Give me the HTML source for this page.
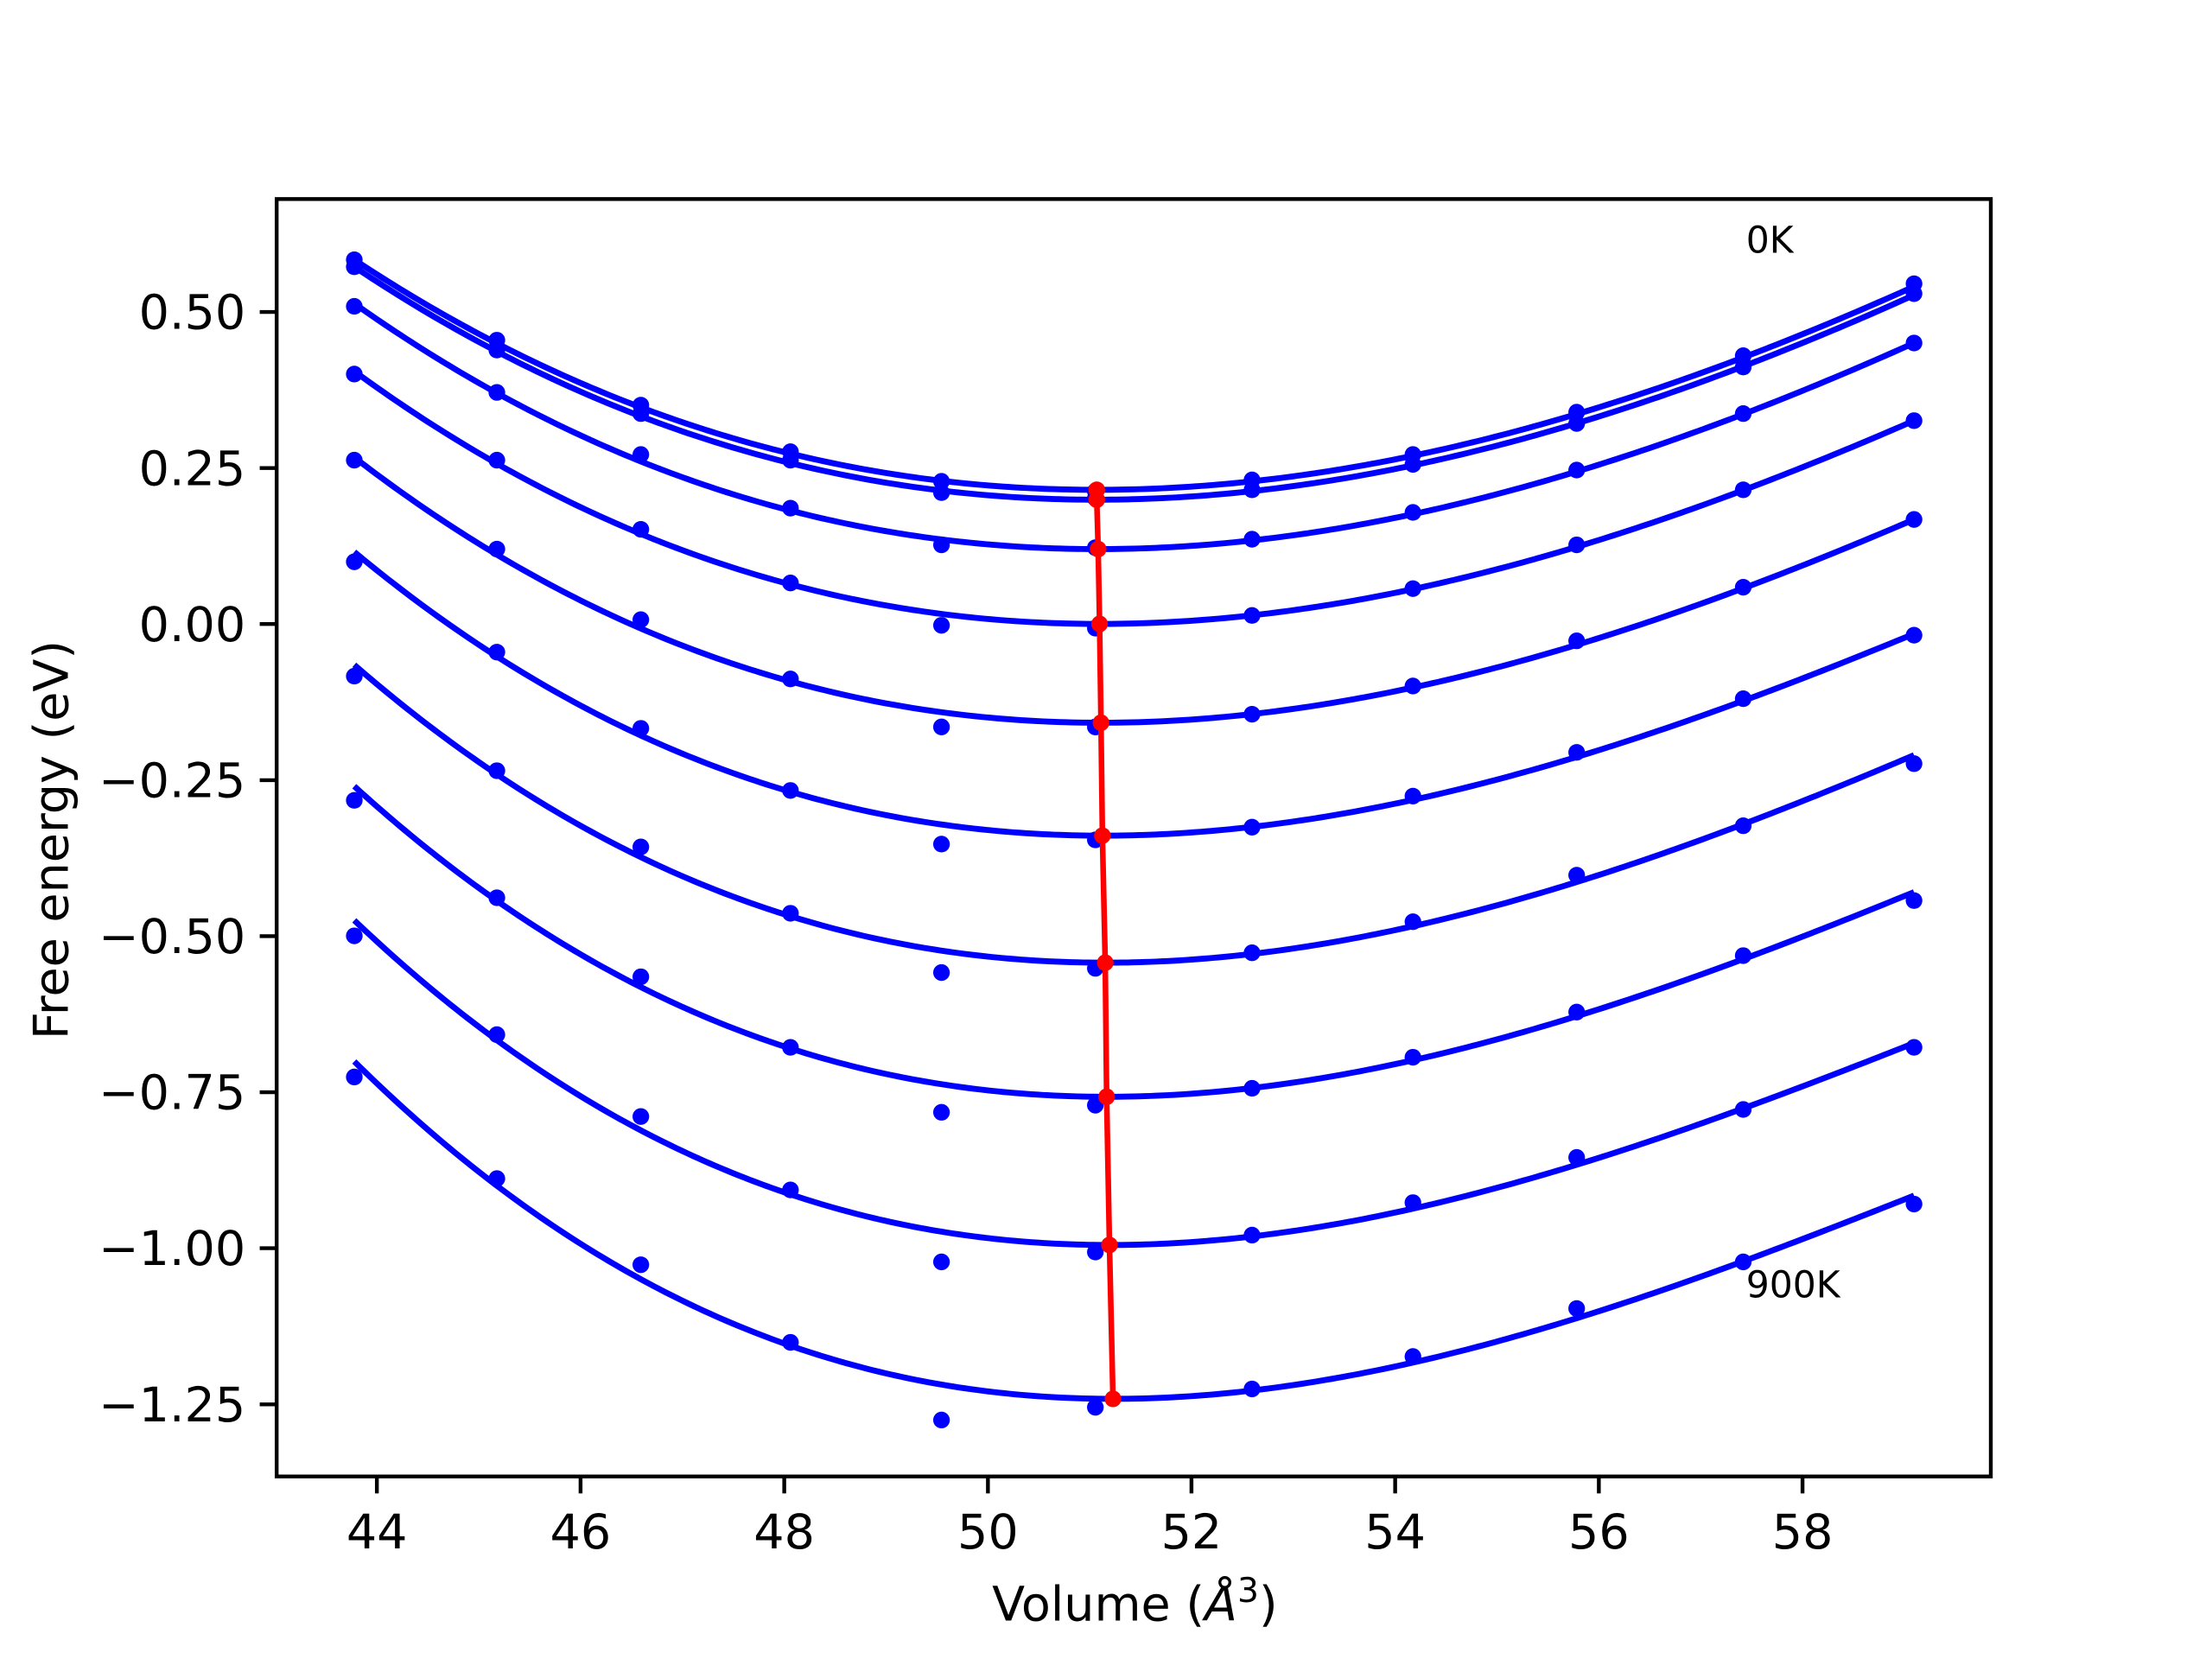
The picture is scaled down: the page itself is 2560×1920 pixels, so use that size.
<!DOCTYPE html>
<html><head><meta charset="utf-8"><style>
html,body{margin:0;padding:0;background:#fff;}
svg{display:block;}
text{font-family:"DejaVu Sans","Liberation Sans",sans-serif;fill:#000;}
</style></head><body>
<svg id="s" width="2560" height="1920" viewBox="0 0 1567.1 1175.3" xmlns="http://www.w3.org/2000/svg">
<rect x="0" y="0" width="1567.1" height="1175.3" fill="#fff"/>
<g id="plot"></g>
<rect x="196" y="141" width="1214.4" height="905" fill="none" stroke="#000" stroke-width="2.7"/>
<g stroke="#000" stroke-width="2.7">
<line x1="267" y1="1046" x2="267" y2="1058"/><line x1="411.3" y1="1046" x2="411.3" y2="1058"/>
<line x1="555.6" y1="1046" x2="555.6" y2="1058"/><line x1="699.9" y1="1046" x2="699.9" y2="1058"/>
<line x1="844.1" y1="1046" x2="844.1" y2="1058"/><line x1="988.4" y1="1046" x2="988.4" y2="1058"/>
<line x1="1132.7" y1="1046" x2="1132.7" y2="1058"/><line x1="1277" y1="1046" x2="1277" y2="1058"/>
<line x1="184" y1="221" x2="196" y2="221"/><line x1="184" y1="331.6" x2="196" y2="331.6"/>
<line x1="184" y1="442.1" x2="196" y2="442.1"/><line x1="184" y1="552.7" x2="196" y2="552.7"/>
<line x1="184" y1="663.2" x2="196" y2="663.2"/><line x1="184" y1="773.8" x2="196" y2="773.8"/>
<line x1="184" y1="884.3" x2="196" y2="884.3"/><line x1="184" y1="994.9" x2="196" y2="994.9"/>
</g>
<g font-size="34" text-anchor="middle">
<text x="267" y="1097">44</text><text x="411.3" y="1097">46</text><text x="555.6" y="1097">48</text>
<text x="699.9" y="1097">50</text><text x="844.1" y="1097">52</text><text x="988.4" y="1097">54</text>
<text x="1132.7" y="1097">56</text><text x="1277" y="1097">58</text>
</g>
<g font-size="34" text-anchor="end">
<text x="174" y="233">0.50</text><text x="174" y="343.6">0.25</text><text x="174" y="454.1">0.00</text>
<text x="174" y="564.7">−0.25</text><text x="174" y="675.2">−0.50</text><text x="174" y="785.8">−0.75</text>
<text x="174" y="896.3">−1.00</text><text x="174" y="1006.9">−1.25</text>
</g>
<text x="804" y="1148" font-size="34" text-anchor="middle">Volume (<tspan font-style="italic">Å</tspan><tspan font-size="24" dy="-13">3</tspan><tspan dy="13">)</tspan></text>
<text transform="translate(48,595) rotate(-90)" font-size="34" text-anchor="middle">Free energy (eV)</text>
<text x="1237" y="179" font-size="26">0K</text>
<text x="1237" y="919" font-size="26">900K</text>
</svg>
<script>
var xs=[251,352,454,560,667,776,887,1001,1117,1235,1356];
var pts=[
[184,241,287,320,341,348,340,322,292,252,201],
[189,248,293,326,349,353,347,329,300,260,208],
[217,278,322,360,386,388,382,363,333,293,243],
[265,326,375,413,443,445,436,417,386,347,298],
[326,389,439,481,515,515,506,486,454,416,368],
[398,462,516,560,598,595,586,564,533,495,450],
[479,546,600,647,689,686,675,653,620,585,541],
[567,636,692,742,788,783,771,749,717,677,638],
[663,733,791,843,894,887,875,852,820,786,742],
[763,835,896,951,1006,997,984,961,927,894,853]];
var L=[184,189,215,263,324,391,471,557,652,752];
var R=[203,209,243,298,368,449,535,632,739,847];
var mx=[777,777,778,779,780,781,783,784,786,788.5];
var my=[347,354,389,442,512,592,682,777,882,991];
var g=document.getElementById('plot'),h='';
for(var i=0;i<10;i++){
 var dl=251-mx[i],dr=1356-mx[i],yl=L[i]-my[i],yr=R[i]-my[i];
 var det=dl*dl*dr*dr*dr-dr*dr*dl*dl*dl;
 var a=(yl*dr*dr*dr-yr*dl*dl*dl)/det, b=(dl*dl*yr-dr*dr*yl)/det;
 var d='';
 for(var x=251;x<=1356;x+=4){var t=x-mx[i];d+=(x==251?'M':'L')+x+','+(my[i]+a*t*t+b*t*t*t).toFixed(2);}
 d+='L1356,'+R[i];
 h+='<path d="'+d+'" fill="none" stroke="#0000ff" stroke-width="4.2"/>';
 for(var k=0;k<11;k++)h+='<circle cx="'+xs[k]+'" cy="'+pts[i][k]+'" r="5.9" fill="#0000ff"/>';
}
var rd='';for(var i=0;i<10;i++)rd+=(i?'L':'M')+mx[i]+','+my[i];
h+='<path d="'+rd+'" fill="none" stroke="#ff0000" stroke-width="4"/>';
for(var i=0;i<10;i++)h+='<circle cx="'+mx[i]+'" cy="'+my[i]+'" r="5.9" fill="#ff0000"/>';
g.innerHTML=h;
</script>
</body></html>
